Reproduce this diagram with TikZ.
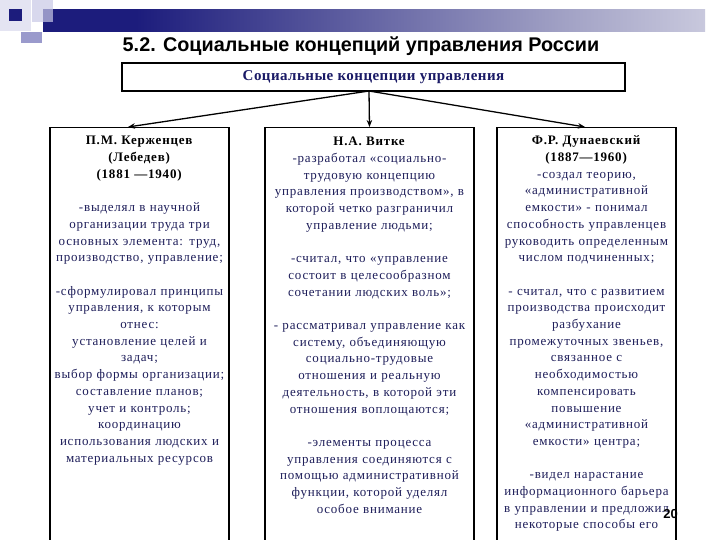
\documentclass[tikz,border=0pt]{standalone}
\usepackage{fontspec}
\setmainfont{Liberation Serif}
\newfontfamily\titlefont{Liberation Sans}
\newfontfamily\bodyfont[LetterSpace=6]{Liberation Serif}
\newfontfamily\topfont[LetterSpace=3]{Liberation Serif}
\definecolor{barnavy}{RGB}{28,28,124}
\definecolor{barmid}{RGB}{160,160,196}
\definecolor{txtnavy}{RGB}{30,30,90}
\definecolor{hdrnavy}{RGB}{26,26,102}
\definecolor{sqlight}{RGB}{228,228,242}
\definecolor{sqmid}{RGB}{200,200,230}
\definecolor{sqdark}{RGB}{154,154,204}
\pgfdeclarehorizontalshading{barshade}{100bp}{color(0bp)=(barnavy); color(32bp)=(barnavy); color(64bp)=(barmid); color(90bp)=(white); color(100bp)=(white)}
\tikzset{
  colbox/.style={draw=black, line width=1.3pt, fill=white, anchor=north, minimum width=#1, minimum height=430pt, inner sep=0pt},
  coltext/.style={anchor=north, align=center, text width=#1, inner sep=0pt, text=txtnavy, font=\bodyfont\fontsize{13}{16.7}\selectfont},
  conn/.style={-{Stealth[length=7pt,width=5.5pt]}, line width=1.3pt, black},
}
\usetikzlibrary{arrows.meta}
\begin{document}
\begin{tikzpicture}[x=1pt,y=-1pt]
\useasboundingbox (0,0) rectangle (720,540);
\fill[white] (0,0) rectangle (720,540);
% decoration
\fill[sqlight] (0,0) rectangle (31,31);
\shade[shading=barshade] (43,10) rectangle (705,32);
\fill[sqmid,opacity=0.7] (32,0) rectangle (53,22);
\fill[barnavy] (9,9) rectangle (22,21);
\fill[sqdark] (21,32) rectangle (42,43);
% title
\node[font=\titlefont\bfseries\fontsize{19.8}{23}\selectfont, anchor=center] (title) at (361,46) {5.2. Социальные концепций управления России};
% top box
\node[draw=black, line width=1.3pt, minimum width=503pt, minimum height=28pt, inner sep=0pt, text=hdrnavy, font=\topfont\bfseries\fontsize{15}{17}\selectfont] (top) at (373.5,77) {Социальные концепции управления};
% columns
\node[colbox=179pt] (b1) at (139.5,127) {};
\node[colbox=209pt] (b2) at (369.5,127) {};
\node[colbox=179pt] (b3) at (586.5,127) {};
\coordinate (a1) at (128,127);
\coordinate (a3) at (585,127);
\coordinate (apex) at (369,91);
\draw[conn] (apex) -- (a1);
\draw[conn] (apex) -- (b2.north);
\draw[conn] (apex) -- (a3);
% texts
\node[coltext=230pt] (t1) at (139.5,133) {\strut\textcolor{black}{\textbf{П.М. Керженцев}}\\
\textcolor{black}{\textbf{(Лебедев)}}\\
\textcolor{black}{\textbf{(1881 —1940)}}\\[16.7pt]
-выделял в научной\\
организации труда три\\
основных элемента: труд,\\
производство, управление;\\[16.7pt]
-сформулировал принципы\\
управления, к которым\\
отнес:\\
установление целей и\\
задач;\\
выбор формы организации;\\
составление планов;\\
учет и контроль;\\
координацию\\
использования людских и\\
материальных ресурсов};
\node[coltext=260pt] (t2) at (369.5,134) {\strut\textcolor{black}{\textbf{Н.А. Витке}}\\
-разработал «социально-\\
трудовую концепцию\\
управления производством», в\\
которой четко разграничил\\
управление людьми;\\[16.7pt]
-считал, что «управление\\
состоит в целесообразном\\
сочетании людских воль»;\\[16.7pt]
- рассматривал управление как\\
систему, объединяющую\\
социально-трудовые\\
отношения и реальную\\
деятельность, в которой эти\\
отношения воплощаются;\\[16.7pt]
-элементы процесса\\
управления соединяются с\\
помощью административной\\
функции, которой уделял\\
особое внимание};
\node[coltext=230pt] (t3) at (586.5,133) {\strut\textcolor{black}{\textbf{Ф.Р. Дунаевский}}\\
\textcolor{black}{\textbf{(1887—1960)}}\\
-создал теорию,\\
«административной\\
емкости» - понимал\\
способность управленцев\\
руководить определенным\\
числом подчиненных;\\[16.7pt]
- считал, что с развитием\\
производства происходит\\
разбухание\\
промежуточных звеньев,\\
связанное с\\
необходимостью\\
компенсировать\\
повышение\\
«административной\\
емкости» центра;\\[16.7pt]
-видел нарастание\\
информационного барьера\\
в управлении и предложил\\
некоторые способы его};
\node[font=\titlefont\bfseries\fontsize{13}{15}\selectfont, anchor=east, inner sep=0pt] (pg) at (678,514) {20};
\end{tikzpicture}
\end{document}
